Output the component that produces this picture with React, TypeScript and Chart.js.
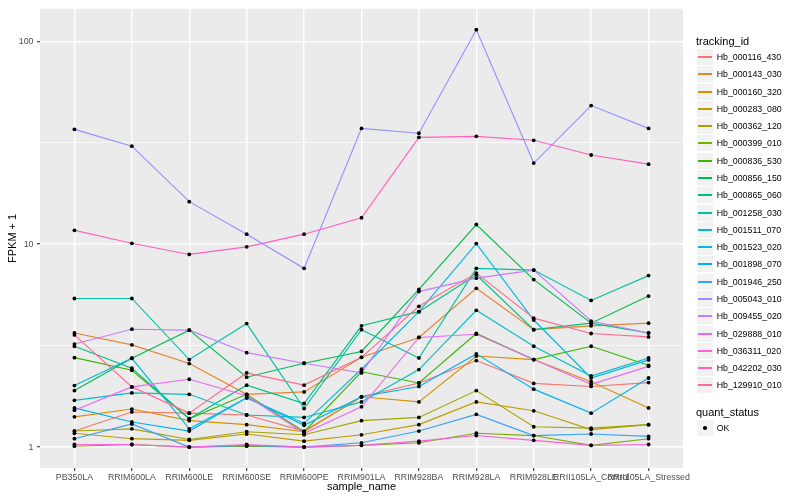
import React, { useEffect, useRef } from "react";
import { Chart, registerables } from "chart.js";

Chart.register(...registerables);

const FONT = '"Liberation Sans", Arial, Helvetica, sans-serif';

const categories = [
  "PB350LA", "RRIM600LA", "RRIM600LE", "RRIM600SE", "RRIM600PE", "RRIM901LA",
  "RRIM928BA", "RRIM928LA", "RRIM928LE", "RRII105LA_Control", "RRII105LA_Stressed",
];

const trackingIds = [
  "Hb_000116_430", "Hb_000143_030", "Hb_000160_320", "Hb_000283_080", "Hb_000362_120",
  "Hb_000399_010", "Hb_000836_530", "Hb_000856_150", "Hb_000865_060", "Hb_001258_030",
  "Hb_001511_070", "Hb_001523_020", "Hb_001898_070", "Hb_001946_250", "Hb_005043_010",
  "Hb_009455_020", "Hb_029888_010", "Hb_036311_020", "Hb_042202_030", "Hb_129910_010",
];

const seriesColors = [
  "#F8766D", "#EA8331", "#D89000", "#C09B00", "#A3A500", "#7CAE00", "#39B600", "#00BB4E",
  "#00BF7D", "#00C1A3", "#00BFC4", "#00BAE0", "#00B0F6", "#35A2FF", "#9590FF", "#C77CFF",
  "#E76BF3", "#FA62DB", "#FF62BC", "#FF6C91",
];

// FPKM + 1 values, one per sample_name
const hb000116_430 = [1.2, 1.49, 1.47, 1.44, 1.2, 1.77, 2.07, 2.67, 2.06, 1.99, 2.08];
const hb000143_030 = [3.65, 3.19, 2.58, 1.82, 1.87, 2.77, 3.47, 6.06, 3.79, 3.96, 4.08];
const hb000160_320 = [1.41, 1.54, 1.35, 1.29, 1.19, 1.77, 1.67, 2.81, 2.7, 2.1, 1.56];
const hb000283_080 = [1.17, 1.1, 1.08, 1.16, 1.07, 1.15, 1.29, 1.67, 1.51, 1.22, 1.29];
const hb000362_120 = [1.2, 1.23, 1.09, 1.19, 1.15, 1.35, 1.4, 1.9, 1.26, 1.24, 1.29];
const hb000399_010 = [1.01, 1.03, 1.0, 1.01, 1.0, 1.02, 1.05, 1.17, 1.14, 1.02, 1.1];
const hb000836_530 = [2.76, 2.39, 1.38, 1.82, 1.19, 2.35, 2.07, 3.63, 2.7, 3.14, 2.53];
const hb000856_150 = [1.9, 2.74, 3.77, 2.21, 2.59, 2.96, 5.98, 12.5, 6.69, 4.08, 5.55];
const hb000865_060 = [3.14, 2.45, 1.38, 2.02, 1.64, 3.96, 4.65, 7.07, 3.79, 4.08, 3.65];
const hb001258_030 = [5.4, 5.4, 2.7, 4.06, 1.55, 3.79, 2.75, 7.6, 7.45, 5.28, 7.0];
const hb001511_070 = [1.7, 1.85, 1.82, 1.44, 1.4, 1.67, 2.41, 4.72, 3.14, 2.24, 2.75];
const hb001523_020 = [2.01, 2.74, 1.23, 1.75, 1.31, 2.42, 4.65, 10.07, 4.23, 2.19, 2.69];
const hb001898_070 = [1.56, 1.33, 1.2, 1.75, 1.28, 1.77, 1.99, 2.88, 1.93, 1.47, 2.19];
const hb001946_250 = [1.1, 1.3, 1.0, 1.02, 1.0, 1.05, 1.2, 1.45, 1.14, 1.16, 1.13];
const hb005043_010 = [36.8, 30.4, 16.2, 11.2, 7.6, 37.2, 35.2, 114, 25.1, 48.2, 37.2];
const hb009455_020 = [3.22, 3.81, 3.77, 2.92, 2.59, 2.32, 5.84, 6.8, 7.45, 4.18, 3.65];
const hb029888_010 = [1.52, 1.98, 2.16, 1.79, 1.17, 1.58, 3.47, 3.6, 2.7, 2.04, 2.5];
const hb036311_020 = [1.03, 1.03, 1.0, 1.03, 1.0, 1.02, 1.07, 1.14, 1.08, 1.02, 1.03];
const hb042202_030 = [11.7, 10.1, 8.9, 9.7, 11.2, 13.5, 33.6, 34.0, 32.5, 27.5, 24.8];
const hb129910_010 = [3.57, 1.98, 1.47, 2.32, 2.02, 2.77, 4.94, 7.2, 4.32, 3.63, 3.49];

const seriesValues = [
  hb000116_430, hb000143_030, hb000160_320, hb000283_080, hb000362_120,
  hb000399_010, hb000836_530, hb000856_150, hb000865_060, hb001258_030,
  hb001511_070, hb001523_020, hb001898_070, hb001946_250, hb005043_010,
  hb009455_020, hb029888_010, hb036311_020, hb042202_030, hb129910_010,
];

const yMajorTicks = [1, 10, 100];
const yMinorTicks = [3.1623, 31.623];
const quantStatus = ["OK"];

const isMajor = (v: number) => yMajorTicks.some((m) => Math.abs(m - v) < 1e-6);

const panelBackground = {
  id: "panelBackground",
  beforeDraw(chart: any) {
    const { ctx, chartArea } = chart;
    ctx.save();
    ctx.fillStyle = "#EBEBEB";
    ctx.fillRect(chartArea.left, chartArea.top, chartArea.right - chartArea.left, chartArea.bottom - chartArea.top);
    ctx.restore();
  },
};

export default function App() {
  const canvasRef = useRef<HTMLCanvasElement | null>(null);

  useEffect(() => {
    const canvas = canvasRef.current;
    if (!canvas) return;
    const lineSets = seriesValues.map((vals, si) => ({
      label: trackingIds[si],
      data: vals.map((v, i) => ({ x: i, y: v })),
      borderColor: seriesColors[si],
      backgroundColor: seriesColors[si],
      borderWidth: 1.15,
      pointRadius: 0,
      tension: 0,
      fill: false,
      order: 100 - si,
    }));
    const pointSet = {
      label: quantStatus[0],
      data: seriesValues.flatMap((vals) => vals.map((v, i) => ({ x: i, y: v }))),
      showLine: false,
      pointRadius: 1.9,
      pointStyle: "circle",
      pointBackgroundColor: "#000000",
      pointBorderColor: "#000000",
      pointBorderWidth: 0,
      borderColor: "#000000",
      order: 0,
    };
    const chart = new Chart(canvas, {
      type: "line",
      data: { datasets: [...lineSets, pointSet] as any },
      options: {
        animation: false,
        responsive: false,
        maintainAspectRatio: false,
        layout: { padding: { left: 0, top: 5, right: 117, bottom: 0 } },
        plugins: {
          legend: { display: false },
          tooltip: { enabled: false },
        },
        scales: {
          x: {
            type: "linear",
            min: -0.6,
            max: 10.6,
            afterBuildTicks: (s: any) => {
              s.ticks = categories.map((_, i) => ({ value: i }));
            },
            afterFit: (s: any) => {
              s.height = 32;
            },
            ticks: {
              autoSkip: false,
              maxRotation: 0,
              minRotation: 0,
              padding: 1,
              color: "#4D4D4D",
              font: { size: 8.8, family: FONT },
              callback: (v: any) => categories[Math.round(Number(v))],
            },
            grid: {
              color: "#FFFFFF",
              lineWidth: 1.4,
              tickLength: 3,
              tickColor: "#333333",
              tickWidth: 1.1,
            },
            border: { display: false },
            title: {
              display: true,
              text: "sample_name",
              color: "#000000",
              font: { size: 11, family: FONT },
              padding: { top: 0, bottom: 6 },
            },
          },
          y: {
            type: "logarithmic",
            min: Math.pow(10, -0.103),
            max: Math.pow(10, 2.16),
            afterBuildTicks: (s: any) => {
              s.ticks = [...yMajorTicks, ...yMinorTicks].sort((a, b) => a - b).map((v) => ({ value: v }));
            },
            afterFit: (s: any) => {
              s.width = 40;
            },
            ticks: {
              autoSkip: false,
              padding: 3.5,
              color: "#4D4D4D",
              font: { size: 8.8, family: FONT },
              callback: (v: any) => (isMajor(Number(v)) ? String(Math.round(Number(v))) : ""),
            },
            grid: {
              color: "#FFFFFF",
              lineWidth: (ctx: any) => (ctx.tick && isMajor(ctx.tick.value) ? 1.4 : 0.7),
              tickLength: 3,
              tickColor: (ctx: any) => (ctx.tick && isMajor(ctx.tick.value) ? "#333333" : "rgba(0,0,0,0)"),
              tickWidth: 1.1,
            },
            border: { display: false },
            title: {
              display: true,
              text: "FPKM + 1",
              color: "#000000",
              font: { size: 11, family: FONT },
              padding: { top: 6, bottom: 0 },
            },
          },
        },
      },
      plugins: [panelBackground],
    });
    return () => chart.destroy();
  }, []);

  const keyH = 17.28;
  const firstKeyCenter = 57.7;

  return (
    <div style={{ position: "absolute", left: 0, top: 0, width: 800, height: 500, background: "#FFFFFF", fontFamily: FONT }}>
      <canvas ref={canvasRef} width={800} height={500} style={{ position: "absolute", left: 0, top: 0, width: 800, height: 500, display: "block" }} />
      <div style={{ position: "absolute", left: 696, top: 40.7 - 8, height: 16, lineHeight: "16px", fontSize: 11, color: "#000" }}>tracking_id</div>
      {trackingIds.map((id, i) => {
        const cy = firstKeyCenter + i * keyH;
        const top = Math.round(cy - keyH / 2);
        return (
          <React.Fragment key={id}>
            <div style={{ position: "absolute", left: 697, top: top, width: 16, height: 16, background: "#F2F2F2" }}>
              <div style={{ position: "absolute", left: 1, right: 1, top: 7, height: 1.5, background: seriesColors[i] }} />
            </div>
            <div style={{ position: "absolute", left: 716.7, top: top + 1, height: 14, lineHeight: "14px", fontSize: 8.8, color: "#000", whiteSpace: "nowrap" }}>{id}</div>
          </React.Fragment>
        );
      })}
      <div style={{ position: "absolute", left: 696, top: 411.7 - 8, height: 16, lineHeight: "16px", fontSize: 11, color: "#000" }}>quant_status</div>
      <div style={{ position: "absolute", left: 697, top: 420, width: 16, height: 16, background: "#F2F2F2" }}>
        <div style={{ position: "absolute", left: 6.2, top: 6.2, width: 3.6, height: 3.6, borderRadius: "50%", background: "#000" }} />
      </div>
      <div style={{ position: "absolute", left: 716.7, top: 421, height: 14, lineHeight: "14px", fontSize: 8.8, color: "#000" }}>{quantStatus[0]}</div>
    </div>
  );
}
